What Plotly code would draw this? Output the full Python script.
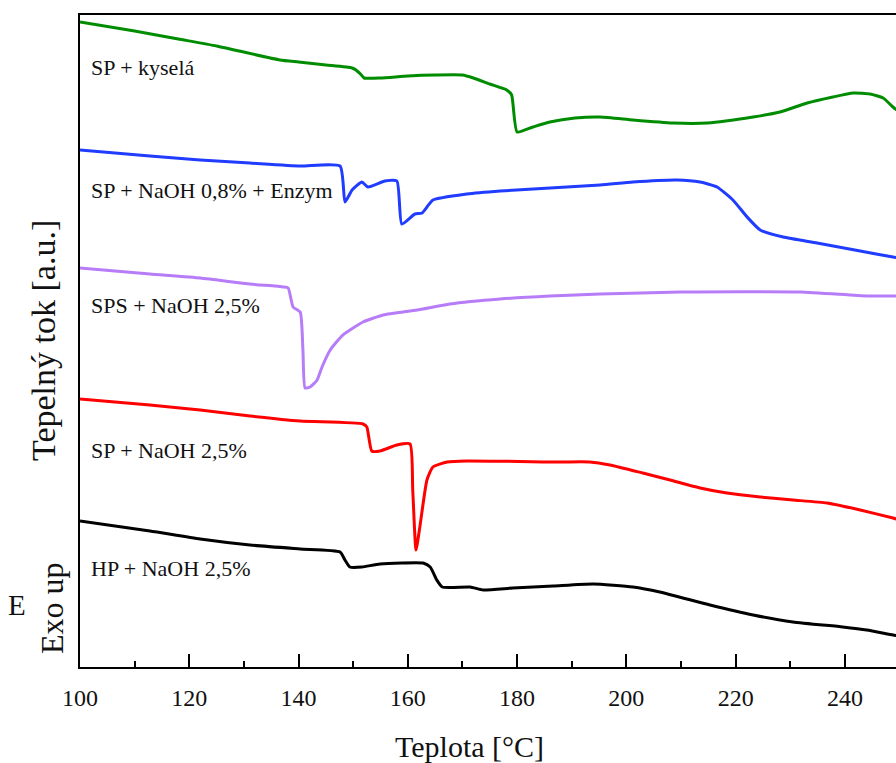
import plotly.graph_objects as go

# ---- data (temperature in °C, heat flow in a.u.) ----
t_green = [100, 110, 118, 125, 136.6, 140, 145, 149.8, 150.5, 151.5, 152, 155, 160, 165, 170, 172, 175, 178.1, 179, 180,
           182.9, 186, 190.6, 195.2, 201.2, 208.5, 214.8, 223.2, 228.1, 233.1, 237.8, 241.5, 244.6, 247, 248.8, 250]
y_green = [64.5, 63.6, 62.8, 62.1, 60.7, 60.5, 60.2, 59.9, 59.7, 59.2, 58.9, 58.9, 59.1, 59.2, 59.2, 58.9, 58.3, 57.7, 57.2, 53.5,
           54.0, 54.5, 54.9, 55.0, 54.7, 54.4, 54.4, 55.0, 55.5, 56.4, 57.0, 57.4, 57.3, 56.9, 56.0, 55.5]

t_blue = [100, 112.8, 122, 131.1, 140.3, 147.6, 148.5, 149.8, 151.6, 152.7, 155.8, 158.0, 158.9, 161.3, 162.6, 164.6, 170.8,
          176.9, 195.2, 201.2, 209.3, 213.5, 216.6, 219.5, 222.1, 224.5, 228.7, 234.9, 242.8, 248.8, 250]
y_blue = [51.7, 51.1, 50.7, 50.4, 50.1, 50.1, 46.5, 47.7, 48.5, 48.0, 48.6, 48.6, 44.3, 45.3, 45.4, 46.7, 47.3,
          47.6, 48.2, 48.5, 48.7, 48.5, 48.0, 46.7, 45.0, 43.7, 43.0, 42.4, 41.6, 41.0, 40.9]

t_violet = [100, 112.8, 122, 131.1, 137.2, 138.1, 139.0, 140.3, 140.8, 141.2, 142.1, 143.4, 144.3, 145.8, 148.1, 151.8,
            155.5, 161.7, 167.7, 176.9, 186.0, 195.2, 209.8, 231.8, 244.0, 248.8, 250]
y_violet = [39.9, 39.3, 38.9, 38.3, 38.0, 37.9, 36.0, 35.5, 31.7, 27.9, 28.0, 28.7, 30.0, 31.7, 33.2, 34.5,
            35.2, 35.7, 36.3, 36.8, 37.1, 37.3, 37.5, 37.5, 37.1, 37.1, 37.1]

t_red = [100, 112.8, 122, 131.1, 140.3, 151.8, 152.5, 153.4, 154.9, 158.0, 160.4, 160.9, 161.5, 162.2, 163.5, 164.6, 167.2,
         170.8, 187.8, 193.3, 197.0, 203.0, 208.0, 213.5, 218.4, 224.5, 230.5, 236.7, 242.8, 248.8, 250]
y_red = [26.8, 26.2, 25.7, 25.1, 24.6, 24.3, 24.0, 21.6, 21.6, 22.2, 22.3, 17.7, 11.7, 14.0, 18.7, 20.0, 20.5,
         20.6, 20.5, 20.5, 20.2, 19.4, 18.7, 17.9, 17.4, 17.0, 16.7, 16.4, 15.7, 14.9, 14.7]

t_black = [100, 112.8, 122, 131.1, 140.3, 147.6, 148.5, 149.4, 151.6, 154.9, 162.8, 164.1, 165.3, 166.3, 171.4, 173.8,
           179.2, 186.6, 193.9, 201.2, 206.1, 215.3, 223.2, 230.5, 239.6, 244.0, 248.8, 250]
y_black = [14.6, 13.6, 12.8, 12.2, 11.8, 11.5, 10.7, 10.0, 10.0, 10.3, 10.4, 10.0, 8.7, 8.0, 8.0, 7.7,
           7.9, 8.1, 8.3, 8.0, 7.5, 6.2, 5.2, 4.5, 4.0, 3.7, 3.2, 3.1]

labels = ["SP + kyselá", "SP + NaOH 0,8% + Enzym", "SPS + NaOH 2,5%", "SP + NaOH 2,5%", "HP + NaOH 2,5%"]
label_y = [60.0, 47.7, 36.2, 21.7, 9.9]
colors = ["#008c00", "#1f3cff", "#b77cf7", "#ff0000", "#000000"]

series = [(t_green, y_green), (t_blue, y_blue), (t_violet, y_violet), (t_red, y_red), (t_black, y_black)]

FONT = "Liberation Serif, Times New Roman, serif"

fig = go.Figure()
for (t, y), c, name in zip(series, colors, labels):
    fig.add_trace(go.Scatter(x=t, y=y, mode="lines",
                             line=dict(color=c, width=3, shape="spline", smoothing=0.5),
                             name=name, showlegend=False))

for name, ly in zip(labels, label_y):
    fig.add_annotation(x=101.65, y=ly, xref="x", yref="y", text=name, showarrow=False,
                       xanchor="left", yanchor="middle", font=dict(family=FONT, size=22, color="#111"))

# axis titles (positions in pixels converted to axis-domain fractions)
def dx(px):
    return (px - 80) / 816

def dy(py):
    return (667 - py) / 652

fig.add_annotation(xref="x domain", yref="y domain", x=dx(469), y=dy(746), text="Teplota [°C]",
                   showarrow=False, xanchor="center", yanchor="middle",
                   font=dict(family=FONT, size=30, color="#111"))
fig.add_annotation(xref="x domain", yref="y domain", x=dx(43), y=dy(341),
                   text="Tepelný tok [a.u.]", textangle=-90, showarrow=False,
                   xanchor="center", yanchor="middle", font=dict(family=FONT, size=34, color="#111"))
fig.add_annotation(xref="x domain", yref="y domain", x=dx(52), y=dy(608),
                   text="Exo up", textangle=-90, showarrow=False,
                   xanchor="center", yanchor="middle", font=dict(family=FONT, size=32, color="#111"))
fig.add_annotation(xref="x domain", yref="y domain", x=dx(17), y=dy(605),
                   text="E", showarrow=False,
                   xanchor="center", yanchor="middle", font=dict(family=FONT, size=29, color="#111"))

fig.update_xaxes(range=[100, 249.35], dtick=20, tick0=100, ticks="inside", ticklen=13, tickwidth=2,
                 tickcolor="black", showline=True, linecolor="black", linewidth=2, mirror=True,
                 showgrid=False, zeroline=False,
                 minor=dict(dtick=10, ticks="inside", ticklen=6, tickwidth=2, tickcolor="black", showgrid=False),
                 tickfont=dict(family=FONT, size=24, color="#111"), ticklabelstandoff=8)
fig.update_yaxes(range=[0, 65.2], showticklabels=False, ticks="", showline=True, linecolor="black",
                 linewidth=2, showgrid=False, zeroline=False)

fig.update_layout(width=896, height=763, margin=dict(l=80, r=0, t=15, b=96),
                  plot_bgcolor="white", paper_bgcolor="white", showlegend=False)

fig.write_html("out.html")
